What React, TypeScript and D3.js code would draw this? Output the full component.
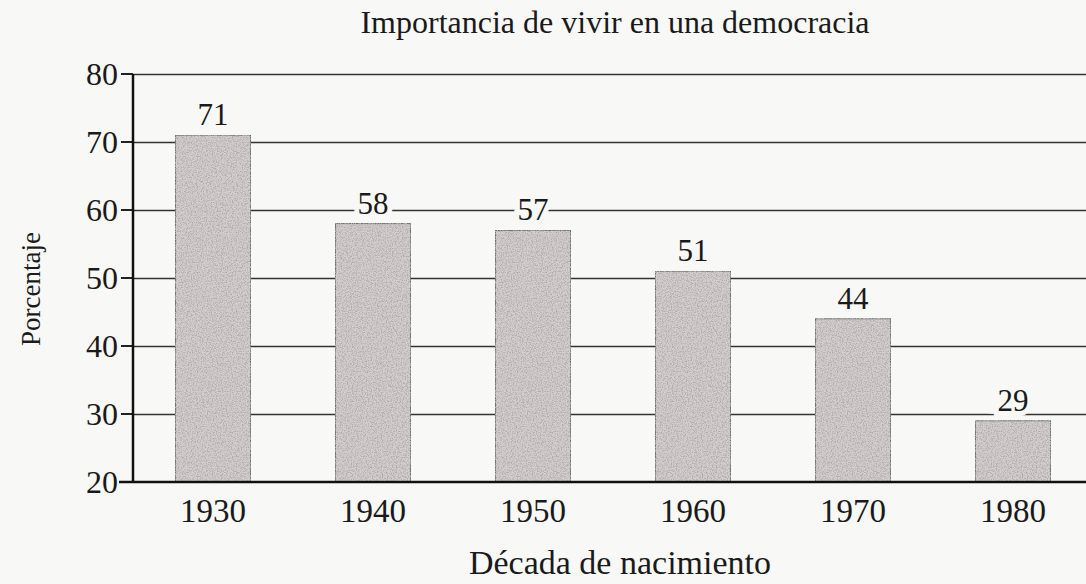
import React, { useEffect, useRef } from 'react';
import * as d3 from 'd3';

// Chart data
const decades = ['1930', '1940', '1950', '1960', '1970', '1980'];
const percentages = [71, 58, 57, 51, 44, 29];
const yTicks = [20, 30, 40, 50, 60, 70, 80];

const W = 1086;
const H = 584;
const FONT = '"Liberation Serif", "DejaVu Serif", serif';

const App = () => {
    const svgRef = useRef<SVGSVGElement>(null);

    useEffect(() => {
        const svg = d3.select(svgRef.current);
        svg.selectAll('*').remove();

        const left = 133;
        const top = 74;
        const bottom = 482;

        // paper background
        svg.append('rect').attr('width', W).attr('height', H).attr('fill', '#f8f8f6');

        // grainy texture for the bars
        const defs = svg.append('defs');
        const filter = defs.append('filter').attr('id', 'grain').attr('x', 0).attr('y', 0).attr('width', 1).attr('height', 1);
        filter.append('feTurbulence')
            .attr('type', 'fractalNoise')
            .attr('baseFrequency', 0.8)
            .attr('numOctaves', 3)
            .attr('seed', 4)
            .attr('result', 'noise');
        filter.append('feColorMatrix')
            .attr('in', 'noise')
            .attr('type', 'matrix')
            .attr('values', '0 0 0 0 0.45  0 0 0 0 0.42  0 0 0 0 0.43  0 0 0 -3.2 1.9')
            .attr('result', 'dots');
        filter.append('feComposite').attr('in', 'dots').attr('in2', 'SourceGraphic').attr('operator', 'atop');

        const x = d3.scaleBand<string>()
            .domain(decades)
            .range([left, left + 960])
            .paddingInner(0.53)
            .paddingOuter(0.265);

        const y = d3.scaleLinear().domain([20, 80]).range([bottom, top]);

        // gridlines with short ticks left of the axis
        const grid = svg.append('g')
            .attr('transform', `translate(${left},0)`)
            .call(d3.axisRight(y).tickValues(yTicks.filter(t => t > 20)).tickSize(W - left).tickFormat(() => ''));
        grid.select('.domain').remove();
        grid.selectAll('line').attr('stroke', '#333').attr('stroke-width', 1.6);
        svg.append('g')
            .selectAll('line')
            .data(yTicks.filter(t => t > 20))
            .enter()
            .append('line')
            .attr('x1', left - 12)
            .attr('x2', left)
            .attr('y1', d => y(d))
            .attr('y2', d => y(d))
            .attr('stroke', '#222')
            .attr('stroke-width', 2);

        // tick labels
        svg.append('g')
            .selectAll('text')
            .data(yTicks)
            .enter()
            .append('text')
            .attr('x', left - 15)
            .attr('y', d => y(d))
            .attr('dy', '0.35em')
            .attr('text-anchor', 'end')
            .attr('font-family', FONT)
            .attr('font-size', 32)
            .attr('fill', '#1a1a1a')
            .text(d => d);

        // bars
        svg.append('g')
            .selectAll('rect')
            .data(percentages)
            .enter()
            .append('rect')
            .attr('x', (_, i) => x(decades[i])!)
            .attr('y', d => y(d))
            .attr('width', x.bandwidth())
            .attr('height', d => bottom - y(d))
            .attr('fill', '#d3cdcd')
            .attr('stroke', '#666')
            .attr('stroke-width', 1)
            .attr('filter', 'url(#grain)');

        // value labels, white halo breaks the gridlines
        svg.append('g')
            .selectAll('text')
            .data(percentages)
            .enter()
            .append('text')
            .attr('x', (_, i) => x(decades[i])! + x.bandwidth() / 2)
            .attr('y', d => y(d) - 10)
            .attr('text-anchor', 'middle')
            .attr('font-family', FONT)
            .attr('font-size', 31)
            .attr('fill', '#1a1a1a')
            .attr('stroke', '#f8f8f6')
            .attr('stroke-width', 10)
            .attr('paint-order', 'stroke')
            .text(d => d);

        // axes lines
        svg.append('line')
            .attr('x1', left).attr('x2', left)
            .attr('y1', top).attr('y2', bottom)
            .attr('stroke', '#111').attr('stroke-width', 2.5);
        svg.append('line')
            .attr('x1', left - 14).attr('x2', W)
            .attr('y1', bottom).attr('y2', bottom)
            .attr('stroke', '#111').attr('stroke-width', 2.5);

        // category labels
        svg.append('g')
            .selectAll('text')
            .data(decades)
            .enter()
            .append('text')
            .attr('x', d => x(d)! + x.bandwidth() / 2)
            .attr('y', bottom + 40)
            .attr('text-anchor', 'middle')
            .attr('font-family', FONT)
            .attr('font-size', 33)
            .attr('fill', '#1a1a1a')
            .text(d => d);

        // title and axis titles
        svg.append('text')
            .attr('x', 615)
            .attr('y', 33)
            .attr('text-anchor', 'middle')
            .attr('font-family', FONT)
            .attr('font-size', 32)
            .attr('fill', '#1a1a1a')
            .text('Importancia de vivir en una democracia');

        svg.append('text')
            .attr('x', 620)
            .attr('y', 574)
            .attr('text-anchor', 'middle')
            .attr('font-family', FONT)
            .attr('font-size', 34)
            .attr('fill', '#1a1a1a')
            .text('Década de nacimiento');

        svg.append('text')
            .attr('transform', 'translate(40,289) rotate(-90)')
            .attr('text-anchor', 'middle')
            .attr('font-family', FONT)
            .attr('font-size', 27)
            .attr('fill', '#1a1a1a')
            .text('Porcentaje');
    }, []);

    return (
        <svg
            ref={svgRef}
            width={W}
            height={H}
            style={{ position: 'absolute', left: 0, top: 0, display: 'block' }}
        />
    );
};

export default App;
